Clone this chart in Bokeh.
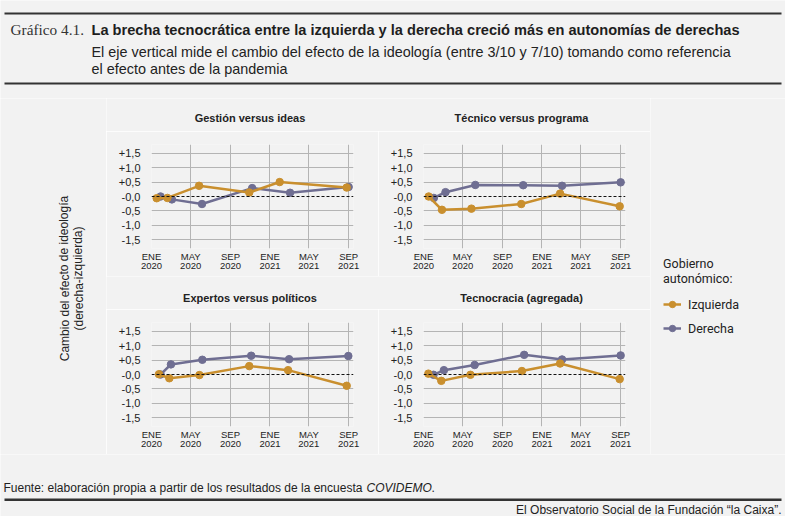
import pandas as pd
from bokeh.plotting import figure
from bokeh.models import (Range1d, FixedTicker, Span, Label, BoxAnnotation, Legend,
                          LegendItem, LinearAxis)
from bokeh.layouts import row, column
from bokeh.embed import file_html
from bokeh.resources import INLINE

BG = "#f2f2f2"
ORANGE = "#c98f2e"
PURPLE = "#6f6e92"
GRID = "#b4b4b4"
SANS = "Liberation Sans"

panel_titles = ["Gestión versus ideas", "Técnico versus programa",
                "Expertos versus políticos", "Tecnocracia (agregada)"]

izq_dates = [
    ["2020-01-17", "2020-02-19", "2020-05-27", "2020-10-29", "2021-01-31", "2021-08-26"],
    ["2020-01-17", "2020-02-27", "2020-05-28", "2020-10-29", "2021-02-26", "2021-08-29"],
    ["2020-01-24", "2020-02-25", "2020-05-28", "2020-10-29", "2021-02-26", "2021-08-26"],
    ["2020-01-16", "2020-02-25", "2020-05-25", "2020-10-31", "2021-02-26", "2021-08-29"],
]
izq_values = [
    [-0.06, -0.05, 0.37, 0.14, 0.50, 0.31],
    [0.00, -0.46, -0.42, -0.26, 0.10, -0.34],
    [0.01, -0.13, -0.02, 0.29, 0.15, -0.39],
    [0.03, -0.22, -0.01, 0.12, 0.38, -0.16],
]
der_dates = [
    ["2020-01-29", "2020-03-04", "2020-06-05", "2020-11-07", "2021-03-04", "2021-09-01"],
    ["2020-02-02", "2020-03-09", "2020-06-09", "2020-11-04", "2021-03-04", "2021-09-01"],
    ["2020-01-29", "2020-03-01", "2020-06-06", "2020-11-04", "2021-03-01", "2021-08-31"],
    ["2020-02-01", "2020-03-04", "2020-06-07", "2020-11-07", "2021-03-04", "2021-09-01"],
]
der_values = [
    [0.00, -0.10, -0.26, 0.29, 0.13, 0.33],
    [-0.05, 0.15, 0.40, 0.39, 0.37, 0.49],
    [0.00, 0.35, 0.51, 0.65, 0.53, 0.64],
    [-0.01, 0.15, 0.33, 0.68, 0.52, 0.66],
]
series_labels = ["Izquierda", "Derecha"]

tick_dates = ["2020-01-01", "2020-05-01", "2020-09-01", "2021-01-01", "2021-05-01", "2021-09-01"]
tick_months = ["ENE", "MAY", "SEP", "ENE", "MAY", "SEP"]
tick_years = ["2020", "2020", "2020", "2021", "2021", "2021"]
y_ticks = [1.5, 1.0, 0.5, 0.0, -0.5, -1.0, -1.5]
y_tick_labels = ["+1,5", "+1,0", "+0,5", "-0,0", "-0,5", "-1,0", "-1,5"]

ORIGIN = pd.Timestamp("2020-01-01")


def days(dates):
    return [int((pd.Timestamp(d) - ORIGIN).days) for d in dates]


tick_days = days(tick_dates)


def deco(w, h, xr=None, yr=None):
    f = figure(width=w, height=h,
               x_range=xr if xr is not None else Range1d(0, w),
               y_range=yr if yr is not None else Range1d(0, h),
               x_axis_type=None, y_axis_type=None, output_backend="svg",
               toolbar_location=None, background_fill_color=BG, border_fill_color=BG,
               outline_line_color=None, min_border=0)
    f.min_border_left = f.min_border_right = f.min_border_top = f.min_border_bottom = 0
    f.xgrid.visible = False
    f.ygrid.visible = False
    return f


def bare(ax):
    ax.axis_line_color = None
    ax.major_tick_line_color = None
    ax.minor_tick_line_color = None
    ax.major_tick_out = 0
    ax.major_tick_in = 0
    ax.minor_tick_out = 0
    ax.minor_tick_in = 0
    ax.major_label_text_color = "#222222"
    ax.major_label_text_font = SANS


def style_x_axis(ax, labels, standoff):
    bare(ax)
    ax.ticker = FixedTicker(ticks=tick_days)
    ax.major_label_overrides = {d: l for d, l in zip(tick_days, labels)}
    ax.major_label_text_font_size = "9.5px"
    ax.major_label_standoff = standoff


def panel(i):
    p = figure(width=272, height=145, x_range=Range1d(0, tick_days[-1] + 15),
               y_range=Range1d(-1.8, 1.8), output_backend="svg", toolbar_location=None,
               background_fill_color=BG, border_fill_color=BG, outline_line_color=None,
               min_border_left=45, min_border_right=25, min_border_top=13, min_border_bottom=28)

    style_x_axis(p.xaxis[0], tick_months, 2)
    years = LinearAxis()
    style_x_axis(years, tick_years, -2)
    p.add_layout(years, "below")

    bare(p.yaxis[0])
    p.yaxis.ticker = FixedTicker(ticks=y_ticks)
    p.yaxis.major_label_overrides = {v: l for v, l in zip(y_ticks, y_tick_labels)}
    p.yaxis.major_label_text_font_size = "11px"
    p.yaxis.major_label_standoff = 11

    p.xgrid.ticker = FixedTicker(ticks=tick_days)
    p.ygrid.ticker = FixedTicker(ticks=[t for t in y_ticks if t != 0])
    p.xgrid.grid_line_color = GRID
    p.ygrid.grid_line_color = GRID

    p.add_layout(Span(location=0, dimension="width", line_color="#111111",
                      line_dash="3 2", line_width=1))

    p.line(days(der_dates[i]), der_values[i], color=PURPLE, line_width=2.5)
    p.scatter(days(der_dates[i]), der_values[i], color=PURPLE, size=7.5)
    p.line(days(izq_dates[i]), izq_values[i], color=ORANGE, line_width=2.5)
    p.scatter(days(izq_dates[i]), izq_values[i], color=ORANGE, size=7.5)
    return p


def title_strip(k, y):
    s = deco(544, 33)
    for j, cx in enumerate((143.5, 415)):
        s.add_layout(Label(x=cx, y=y, text=panel_titles[2 * k + j], text_font=SANS,
                           text_font_size="11px", text_font_style="bold",
                           text_color="#222222", text_align="center",
                           text_baseline="middle"))
    return s


panels = [panel(i) for i in range(4)]

# header
hdr = deco(785, 98)
H = 98
hdr.add_layout(BoxAnnotation(left=4, right=781, bottom=H - 14, top=H - 12,
                             fill_color="#333333", fill_alpha=1, line_color=None))
hdr.add_layout(BoxAnnotation(left=4, right=781, bottom=H - 84, top=H - 82,
                             fill_color="#333333", fill_alpha=1, line_color=None))
hdr.add_layout(Label(x=10, y=H - 29, text="Gráfico 4.1.", text_font="Liberation Serif",
                     text_font_size="15.3px", text_color="#333333", text_baseline="middle"))
hdr.add_layout(Label(x=91, y=H - 29,
                     text="La brecha tecnocrática entre la izquierda y la derecha creció más en autonomías de derechas",
                     text_font=SANS, text_font_size="14.6px", text_font_style="bold",
                     text_color="#1e1e1e", text_baseline="middle"))
hdr.add_layout(Label(x=91, y=H - 51,
                     text="El eje vertical mide el cambio del efecto de la ideología (entre 3/10 y 7/10) tomando como referencia",
                     text_font=SANS, text_font_size="14.4px", text_color="#222222",
                     text_baseline="middle"))
hdr.add_layout(Label(x=91, y=H - 68, text="el efecto antes de la pandemia",
                     text_font=SANS, text_font_size="14.4px", text_color="#222222",
                     text_baseline="middle"))

# y label
ylab = deco(106, 356)
ylab.add_layout(Label(x=64, y=176, text="Cambio del efecto de ideología", angle=1.5708,
                      text_font=SANS, text_font_size="12px", text_color="#222222",
                      text_align="center", text_baseline="middle"))
ylab.add_layout(Label(x=78, y=176, text="(derecha-izquierda)", angle=1.5708,
                      text_font=SANS, text_font_size="12px", text_color="#222222",
                      text_align="center", text_baseline="middle"))

# legend (its renderers hold one panel's data, kept outside this figure's view)
leg = deco(135, 356, xr=Range1d(2000, 2001), yr=Range1d(50, 51))
r1 = leg.line(days(izq_dates[3]), izq_values[3], color=ORANGE, line_width=2.5)
r2 = leg.scatter(days(izq_dates[3]), izq_values[3], color=ORANGE, size=6)
r3 = leg.line(days(der_dates[3]), der_values[3], color=PURPLE, line_width=2.5)
r4 = leg.scatter(days(der_dates[3]), der_values[3], color=PURPLE, size=6)
legend = Legend(items=[LegendItem(label=series_labels[0], renderers=[r1, r2]),
                       LegendItem(label=series_labels[1], renderers=[r3, r4])],
                location=(13, 118), title="Gobierno\nautonómico:",
                background_fill_alpha=0, border_line_color=None, padding=0, margin=0,
                glyph_width=18, glyph_height=16, label_standoff=7, spacing=8,
                title_standoff=10, label_text_font="Roboto", label_text_font_size="12.5px",
                label_text_color="#222222", title_text_font="Roboto",
                title_text_font_size="12.5px", title_text_font_style="normal",
                title_text_color="#222222")
leg.add_layout(legend)

# footer
ftr = deco(785, 62)
F = 62
ftr.add_layout(Label(x=3, y=F - 33,
                     text="Fuente: elaboración propia a partir de los resultados de la encuesta",
                     text_font=SANS, text_font_size="12px", text_color="#222222",
                     text_baseline="middle"))
ftr.add_layout(Label(x=366, y=F - 33, text="COVIDEMO", text_font=SANS,
                     text_font_size="12px", text_font_style="italic",
                     text_color="#222222", text_baseline="middle"))
ftr.add_layout(Label(x=431, y=F - 33, text=".", text_font=SANS,
                     text_font_size="12px", text_color="#222222", text_baseline="middle"))
ftr.add_layout(BoxAnnotation(left=4, right=781, bottom=F - 46.5, top=F - 44,
                             fill_color="#333333", fill_alpha=1, line_color=None))
ftr.add_layout(Label(x=781, y=F - 55, text="El Observatorio Social de la Fundación “la Caixa”.",
                     text_font=SANS, text_font_size="12px", text_color="#222222",
                     text_align="right", text_baseline="middle"))

grid = column(title_strip(0, 14), row(panels[0], panels[1]),
              title_strip(1, 11.3), row(panels[2], panels[3]))
page = column(hdr, row(ylab, grid, leg), ftr)

open("out.html", "w").write(file_html(page, INLINE))
